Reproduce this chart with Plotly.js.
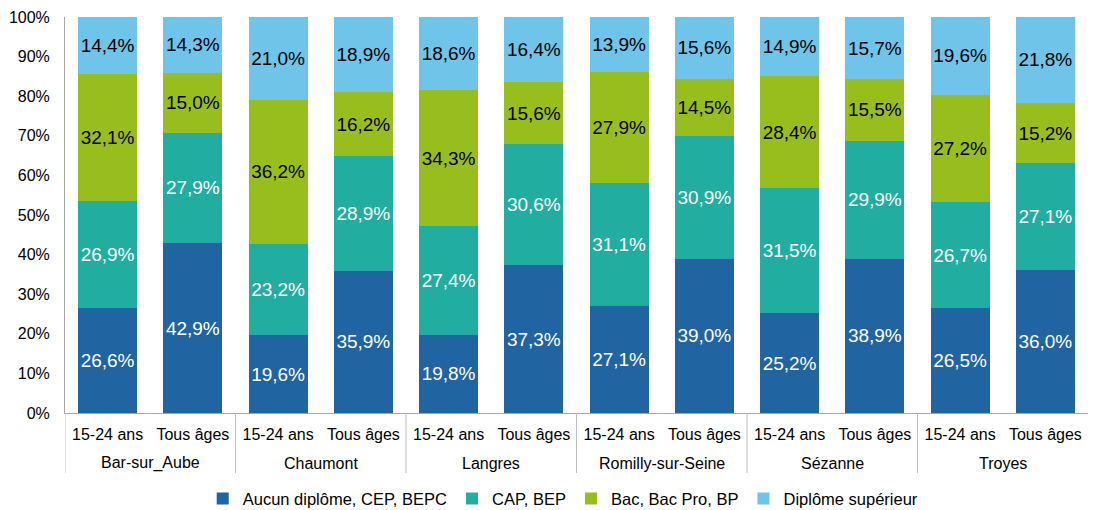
<!DOCTYPE html>
<html><head><meta charset="utf-8">
<script src="https://cdn.plot.ly/plotly-3.0.1.min.js"></script>
<style>html,body{margin:0;padding:0;background:#fff}#chart{width:1095px;height:510px}</style>
</head><body><div id="chart"></div>
<script>
const cities = ["Bar-sur_Aube","Bar-sur_Aube","Chaumont","Chaumont","Langres","Langres","Romilly-sur-Seine","Romilly-sur-Seine","Sézanne","Sézanne","Troyes","Troyes"];
const ages = ["15-24 ans","Tous âges","15-24 ans","Tous âges","15-24 ans","Tous âges","15-24 ans","Tous âges","15-24 ans","Tous âges","15-24 ans","Tous âges"];
const seriesNames = ["Aucun diplôme, CEP, BEPC","CAP, BEP","Bac, Bac Pro, BP","Diplôme supérieur"];
const aucun = [26.6,42.9,19.6,35.9,19.8,37.3,27.1,39.0,25.2,38.9,26.5,36.0];
const cap = [26.9,27.9,23.2,28.9,27.4,30.6,31.1,30.9,31.5,29.9,26.7,27.1];
const bac = [32.1,15.0,36.2,16.2,34.3,15.6,27.9,14.5,28.4,15.5,27.2,15.2];
const sup = [14.4,14.3,21.0,18.9,18.6,16.4,13.9,15.6,14.9,15.7,19.6,21.8];

const colors = ["#2064A1","#21AEA1","#98BE1E","#6FC5E9"];
const textColors = ["#ffffff","#ffffff","#000000","#000000"];
const vals = [aucun, cap, bac, sup];
const fmt = v => v.toFixed(1).replace('.', ',') + '%';
const idx = ages.map((_, i) => i);
const FONT = 'Liberation Sans, Arial, sans-serif';

const traces = vals.map((v,i) => ({
  type: 'bar',
  name: seriesNames[i],
  x: idx,
  y: v,
  text: v.map(fmt),
  textposition: 'inside',
  insidetextanchor: 'middle',
  textangle: 0,
  constraintext: 'none',
  textfont: {family: FONT, size: 19, color: textColors[i]},
  marker: {color: colors[i], line: {width: 0}},
  hoverinfo: 'none'
}));

const groups = [];
cities.forEach((c, i) => {
  if (!groups.length || groups[groups.length-1].name !== c) groups.push({name: c, start: i, end: i});
  else groups[groups.length-1].end = i;
});
const plotH = 510 - 17 - 97;
const divDepth = 60 / plotH;

const shapes = groups.map(g => ({
  type: 'line', xref: 'x', yref: 'paper',
  x0: g.start - 0.5, x1: g.start - 0.5, y0: 0, y1: -divDepth,
  line: {color: '#BFBFBF', width: 1}, layer: 'above'
}));
const annotations = groups.map(g => ({
  xref: 'x', yref: 'paper', x: (g.start + g.end) / 2, y: 0,
  yanchor: 'middle', yshift: -50, showarrow: false,
  text: g.name, font: {family: FONT, size: 16, color: '#000'}
}));

const layout = {
  width: 1095, height: 510,
  margin: {l: 65, r: 7, t: 17, b: 97},
  barmode: 'stack',
  bargap: 0.31,
  paper_bgcolor: '#fff', plot_bgcolor: '#fff',
  font: {family: FONT, size: 16, color: '#000'},
  xaxis: {
    type: 'linear', range: [-0.5, cities.length - 0.5],
    tickmode: 'array', tickvals: idx, ticktext: ages,
    showline: true, linecolor: '#A6A6A6', linewidth: 1,
    showgrid: false, zeroline: false, automargin: false,
    ticks: 'outside', ticklen: 7, tickcolor: 'rgba(0,0,0,0)',
    tickfont: {size: 16, color: '#000'}
  },
  yaxis: {
    range: [0, 100], dtick: 10, ticksuffix: '%',
    showgrid: false, zeroline: false, automargin: false,
    showline: true, linecolor: '#A6A6A6', linewidth: 1,
    ticks: 'outside', ticklen: 11, tickcolor: 'rgba(0,0,0,0)',
    tickfont: {size: 16, color: '#000'}
  },
  shapes: shapes,
  annotations: annotations,
  showlegend: true,
  legend: {orientation: 'h', xref: 'paper', x: 0.487, xanchor: 'center',
    yref: 'container', y: 0.022, yanchor: 'middle',
    font: {size: 16.5, color: '#000'}, traceorder: 'normal'}
};
Plotly.newPlot('chart', traces, layout, {displayModeBar: false, staticPlot: true});
</script></body></html>
